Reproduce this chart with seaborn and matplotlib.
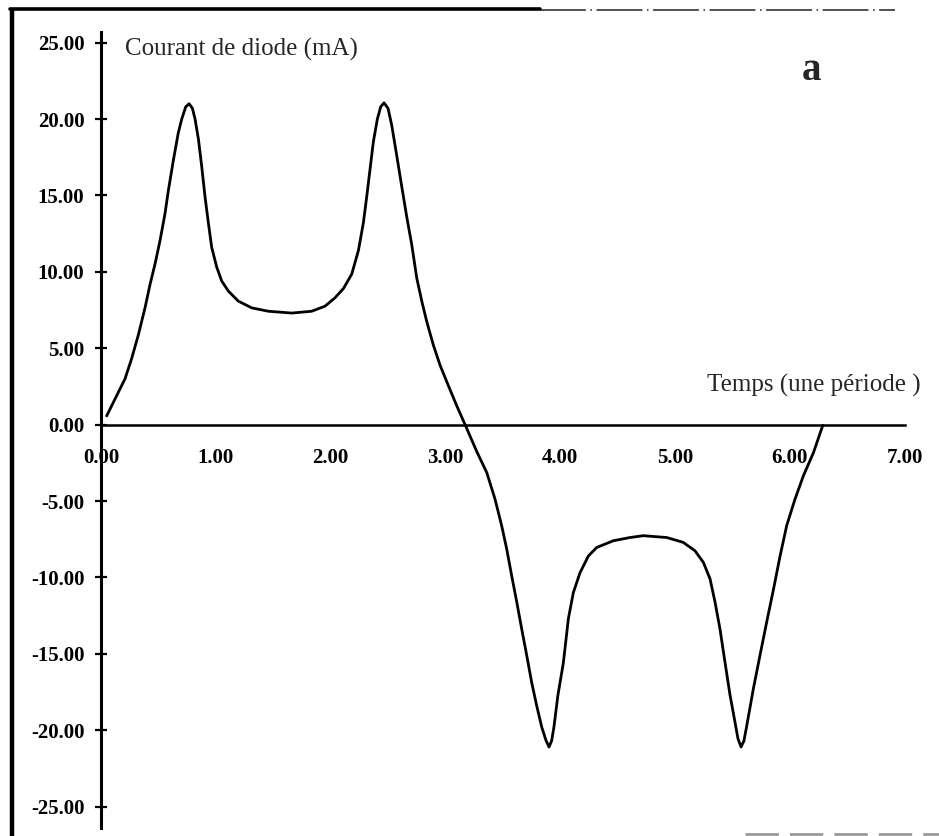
import matplotlib
matplotlib.use("Agg")
import matplotlib.pyplot as plt
from matplotlib.lines import Line2D
from matplotlib.ticker import FormatStrFormatter
import seaborn as sns
import pandas as pd

# Diode current over one period (time in rad, current in mA)
temps = [0.049, 0.122, 0.209, 0.267, 0.325, 0.383, 0.427, 0.470, 0.514, 0.557,
         0.586, 0.630, 0.673, 0.703, 0.738, 0.767, 0.796, 0.819, 0.848, 0.877,
         0.906, 0.935, 0.964, 1.008, 1.051, 1.109, 1.196, 1.313, 1.457, 1.661,
         1.835, 1.951, 2.038, 2.111, 2.184, 2.242, 2.285, 2.314, 2.343, 2.372,
         2.407, 2.436, 2.465, 2.500, 2.532, 2.576, 2.619, 2.663, 2.706, 2.750,
         2.794, 2.837, 2.895, 2.953, 3.025, 3.098, 3.171,
         3.272, 3.360, 3.432, 3.490, 3.534, 3.577, 3.621, 3.665, 3.708, 3.752,
         3.795, 3.839, 3.875, 3.902, 3.925, 3.945, 3.980, 4.027, 4.071, 4.114,
         4.172, 4.245, 4.318, 4.463, 4.608, 4.724, 4.928, 5.072, 5.174, 5.247,
         5.305, 5.348, 5.392, 5.436, 5.479, 5.523, 5.548, 5.575, 5.600, 5.625,
         5.682, 5.740, 5.799, 5.857, 5.915, 5.973, 6.045, 6.118, 6.205, 6.287]
courant = [0.57, 1.68, 3.0, 4.33, 5.87, 7.64, 9.18, 10.5, 12.05, 13.8,
           15.3, 17.3, 19.1, 20.0, 20.8, 21.0, 20.7, 20.0, 18.7, 16.9,
           14.9, 13.2, 11.6, 10.3, 9.4, 8.74, 8.08, 7.64, 7.42, 7.3,
           7.42, 7.75, 8.3, 8.9, 9.85, 11.4, 13.2, 14.9, 16.7, 18.5,
           20.0, 20.8, 21.06, 20.7, 19.6, 17.6, 15.6, 13.6, 11.8, 9.6,
           8.08, 6.75, 5.2, 3.89, 2.56, 1.24, 0.0,
           -1.75, -3.14, -4.88, -6.62, -8.15, -9.89, -11.6, -13.4, -15.1, -16.9,
           -18.4, -19.8, -20.65, -21.1, -20.7, -19.8, -17.7, -15.6, -12.7, -11.0,
           -9.7, -8.6, -8.04, -7.6, -7.39, -7.27, -7.39, -7.71, -8.26, -9.02,
           -10.1, -11.6, -13.4, -15.6, -17.7, -19.5, -20.55, -21.1, -20.7, -19.7,
           -17.3, -15.1, -12.9, -10.8, -8.6, -6.6, -4.88, -3.35, -1.85, -0.05]

y_ticks = [-25, -20, -15, -10, -5, 0, 5, 10, 15, 20, 25]
x_ticks = [0, 1, 2, 3, 4, 5, 6, 7]

df = pd.DataFrame({"temps": temps, "courant": courant})

sns.set_style("white")
plt.rcParams["font.family"] = ["Liberation Serif", "DejaVu Serif"]
plt.rcParams["axes.unicode_minus"] = False

fig = plt.figure(figsize=(9.39, 8.36), dpi=100)
ax = fig.add_axes([0.1076, 0.0096, 0.8558, 0.9522])

sns.lineplot(data=df, x="temps", y="courant", ax=ax, color="black",
             linewidth=2.0, sort=False)
ax.lines[-1].set_solid_joinstyle("round")
ax.lines[-1].set_solid_capstyle("round")

ax.set_xlim(0, 7)
ax.set_ylim(-26.4, 25.7)

for side in ("top", "right"):
    ax.spines[side].set_visible(False)
ax.spines["bottom"].set_position(("data", 0))
ax.spines["left"].set_linewidth(2.2)
ax.spines["bottom"].set_linewidth(1.8)
for side in ("left", "bottom"):
    ax.spines[side].set_color("black")

ax.set_xticks(x_ticks)
ax.set_yticks(y_ticks)
ax.xaxis.set_major_formatter(FormatStrFormatter("%.2f"))
ax.yaxis.set_major_formatter(FormatStrFormatter("%.2f"))
ax.tick_params(axis="x", length=0, pad=17, labelsize=15, colors="black")
ax.tick_params(axis="y", direction="inout", length=8, width=1.6, pad=8,
               labelsize=15, colors="black", left=True)
for lab in ax.get_xticklabels() + ax.get_yticklabels():
    lab.set_fontweight("bold")
ax.set_xlabel("")
ax.set_ylabel("")
ax.grid(False)

ax.text(0.21, 24.55, "Courant de diode (mA)", ha="left", va="center",
        fontsize=18)
ax.text(5.28, 2.55, "Temps (une période )", ha="left", va="center",
        fontsize=18)
ax.text(6.19, 23.2, "a", ha="center", va="center", fontsize=28,
        fontweight="bold")

# page frame
fig.add_artist(Line2D([12 / 939, 12 / 939], [0, 1 - 10 / 836],
                      transform=fig.transFigure, color="black", linewidth=3.2))
fig.add_artist(Line2D([10 / 939, 540 / 939], [1 - 9 / 836, 1 - 9 / 836],
                      transform=fig.transFigure, color="black", linewidth=2.6))
fig.add_artist(Line2D([540 / 939, 895 / 939], [1 - 10 / 836, 1 - 10 / 836],
                      transform=fig.transFigure, color="#222222", linewidth=1.1,
                      linestyle=(0, (30, 3, 1, 3))))
fig.add_artist(Line2D([745 / 939, 1.0], [2 / 836, 2 / 836],
                      transform=fig.transFigure, color="#999999", linewidth=2.0,
                      linestyle=(0, (12, 4))))

fig.savefig("out.png", dpi=100)
